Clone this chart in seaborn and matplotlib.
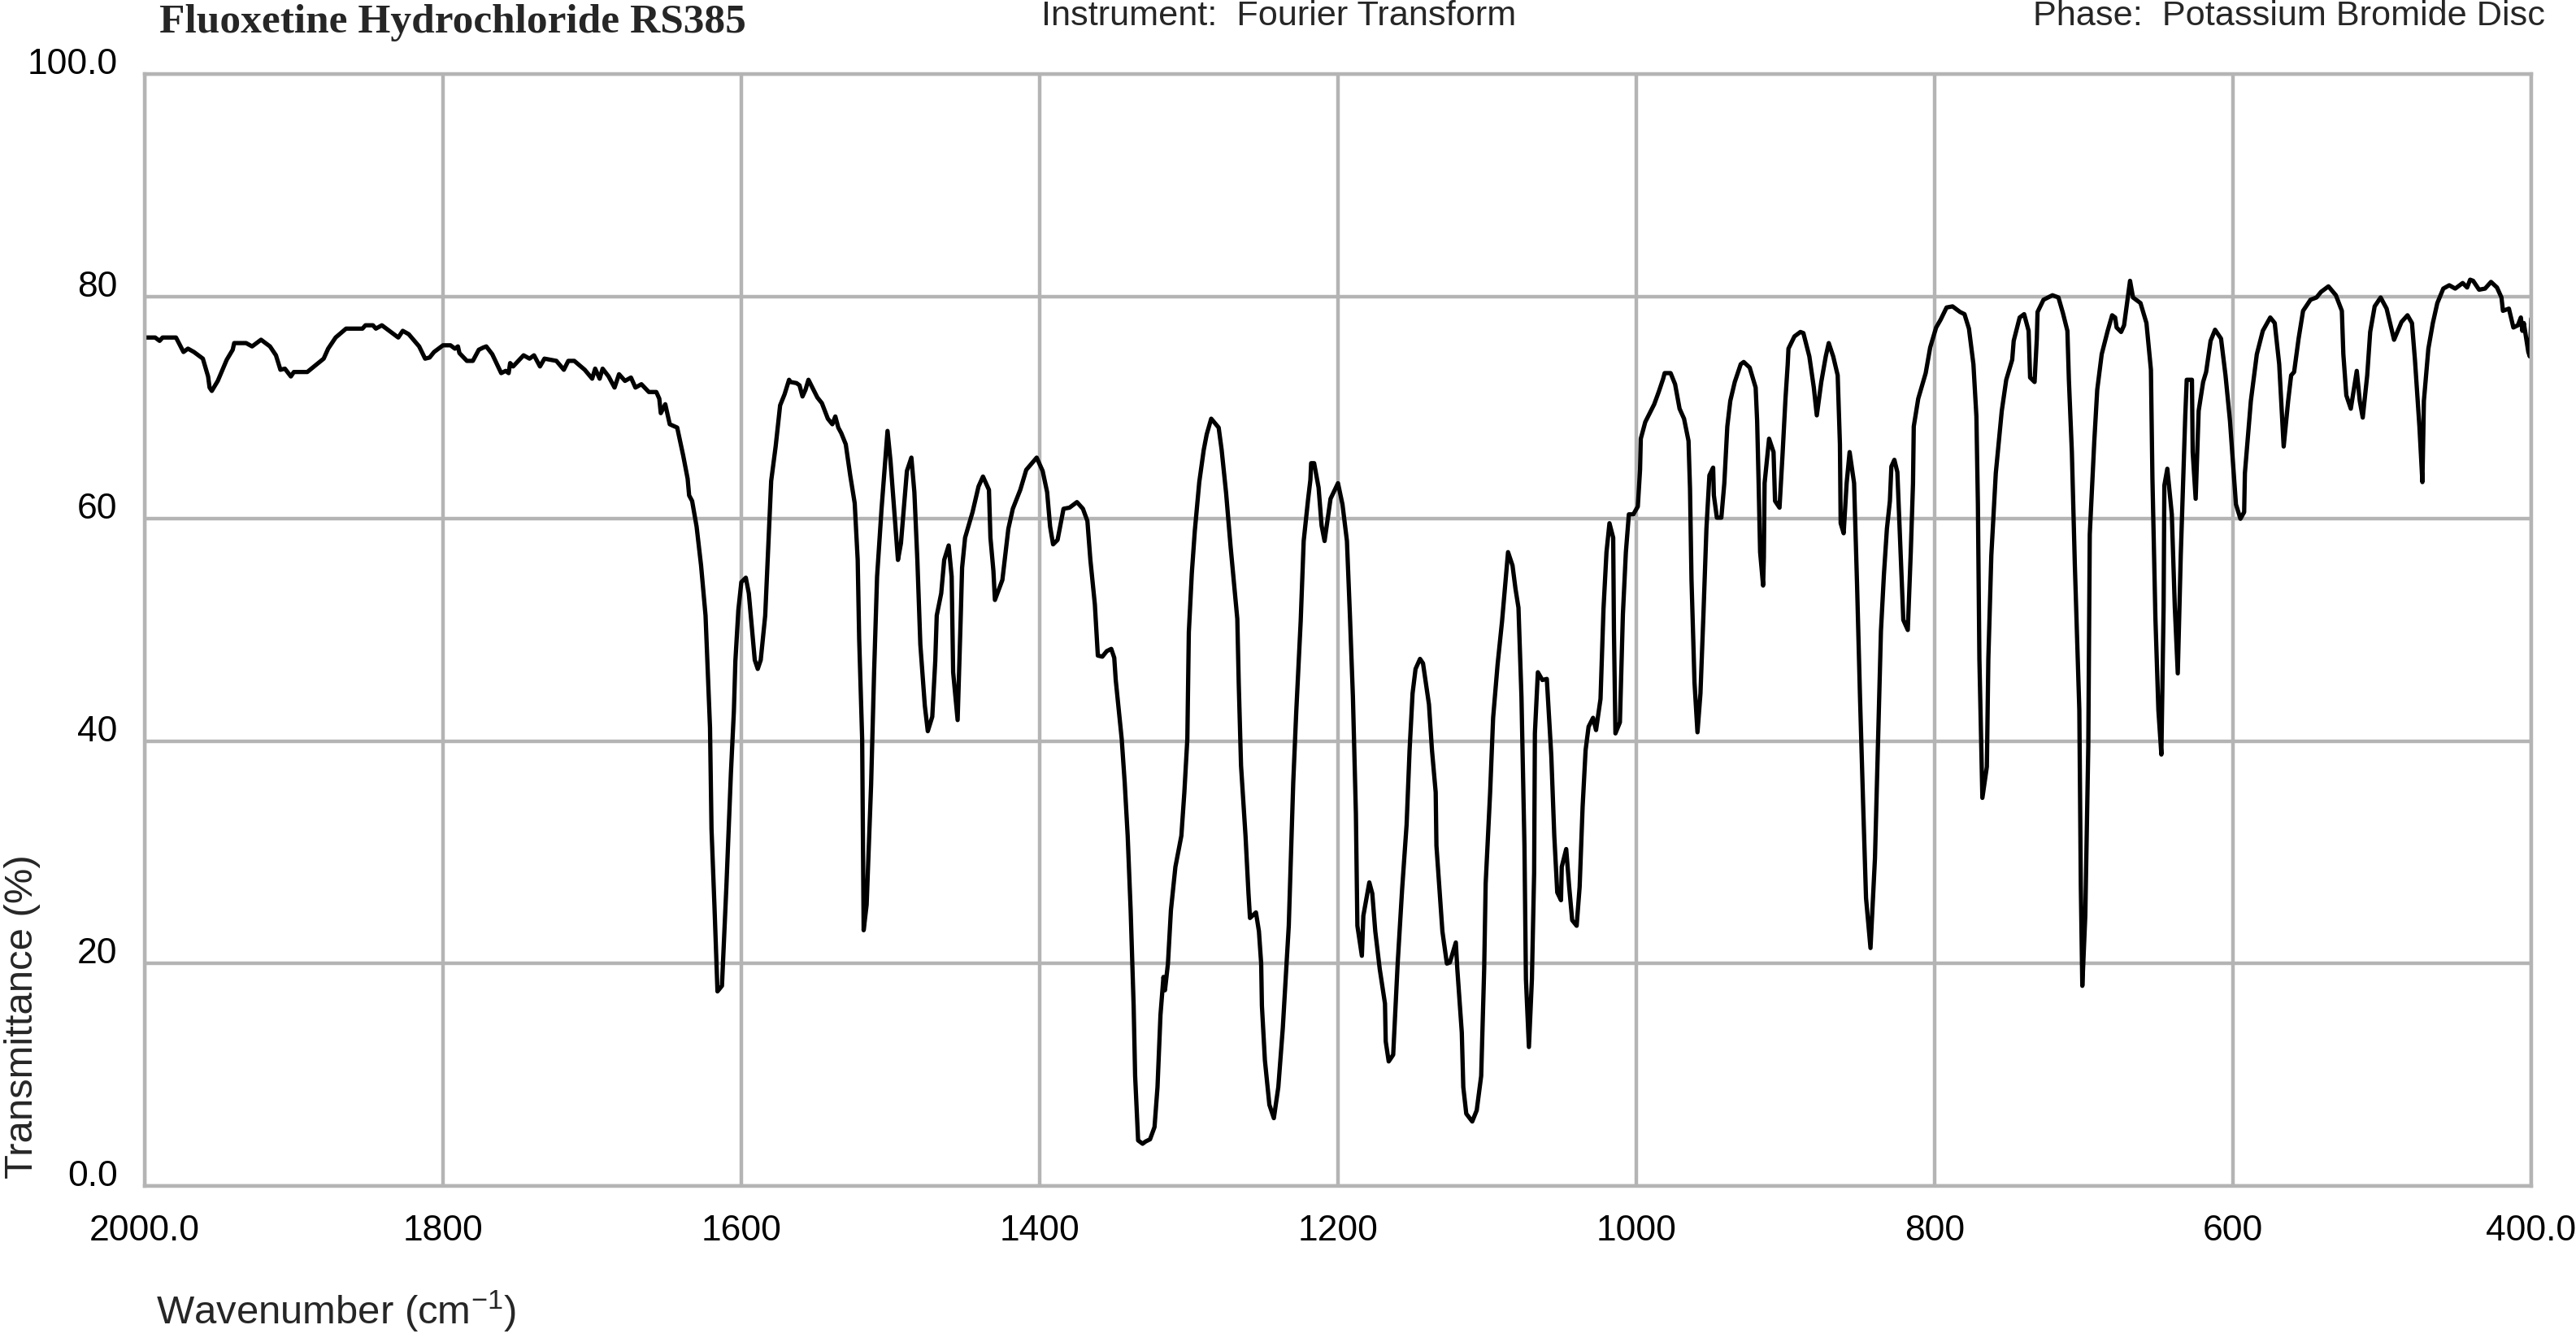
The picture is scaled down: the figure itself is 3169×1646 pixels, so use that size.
import matplotlib
matplotlib.use("Agg")
import matplotlib.pyplot as plt
import seaborn as sns
from matplotlib import font_manager

# ---------------- data ----------------
wavenumber = [
    2000, 1993, 1990, 1988, 1979, 1974, 1971, 1967, 1961, 1957.5, 1956.5, 1955, 1951, 1945, 1941, 1940,
    1932, 1928, 1922, 1916, 1912, 1909, 1906, 1902, 1900, 1891, 1880, 1877, 1872, 1865, 1854, 1852,
    1847, 1845, 1841, 1836, 1830, 1827, 1823, 1816, 1812, 1809, 1806, 1800, 1795, 1792, 1790, 1789,
    1784, 1780, 1776, 1773, 1771, 1767, 1761, 1758, 1756, 1755, 1753, 1746, 1742, 1739, 1735, 1732,
    1724, 1719, 1716, 1712, 1705, 1700, 1698, 1695, 1693, 1689, 1685, 1682, 1678, 1674, 1671, 1667,
    1662, 1657, 1655, 1654, 1651, 1648,
    1643, 1639, 1636, 1635, 1633, 1630, 1627, 1624, 1621, 1620, 1618, 1616, 1613, 1610, 1607, 1605,
    1604, 1602, 1600, 1597, 1595, 1593, 1591, 1589, 1587, 1584, 1582, 1580, 1577, 1574, 1571, 1568,
    1567, 1563, 1561, 1559, 1557, 1555, 1549, 1546, 1542, 1539, 1537, 1535, 1533, 1530, 1527, 1524,
    1522, 1521, 1519, 1518, 1516, 1513, 1511, 1509, 1506, 1502, 1500, 1497, 1495, 1493, 1489, 1486,
    1484, 1482, 1480, 1477, 1475, 1472, 1470, 1469, 1466, 1464, 1461, 1459, 1458, 1455, 1453, 1452,
    1450, 1445, 1441, 1438, 1434, 1433, 1431, 1430, 1425, 1421, 1418, 1413, 1409, 1402, 1398, 1395,
    1393, 1391, 1388, 1384, 1380, 1375, 1371, 1368, 1366, 1363, 1361, 1358, 1355, 1352, 1350,
    1349, 1345, 1343, 1341, 1339, 1337, 1336, 1334, 1331, 1329, 1326, 1323, 1321, 1319, 1317, 1316,
    1314, 1312, 1309, 1305, 1303, 1301, 1300, 1298, 1296, 1293, 1290, 1288, 1285, 1280, 1278, 1275,
    1272, 1267.5, 1266.5, 1265, 1262, 1260, 1259, 1255, 1253, 1251.5, 1251, 1249, 1246, 1243, 1240, 1237,
    1233, 1232, 1230, 1228, 1225, 1223, 1220, 1218.5, 1218, 1216, 1213, 1211, 1209, 1205, 1200, 1197,
    1194, 1192, 1190, 1188, 1187, 1184, 1183, 1179, 1177, 1175, 1172, 1168.5, 1168, 1166, 1163, 1160,
    1157, 1154, 1152, 1150, 1148, 1145, 1143, 1139, 1137, 1134.5, 1134, 1130, 1127, 1125, 1121, 1120,
    1117, 1116, 1114, 1110, 1107, 1104, 1102, 1101, 1098, 1096, 1093, 1090, 1088, 1086, 1083, 1081,
    1079, 1077, 1075, 1074, 1072, 1070, 1068.5, 1068, 1066, 1063,
    1060, 1057, 1055, 1053, 1050.5, 1050, 1047, 1045, 1043, 1040, 1038, 1036, 1034, 1032, 1029, 1027,
    1024, 1022, 1020, 1018, 1015.5, 1015, 1014, 1011, 1009, 1007, 1005, 1002, 999, 997.5, 997, 994,
    991, 988, 985, 982, 981, 977, 974, 971, 968, 965, 964, 963, 961, 959, 957, 955,
    953, 951, 948.5, 948, 946, 943, 941, 939, 937, 934, 932, 930, 928, 924, 920, 919,
    918, 917, 915, 914.5, 914, 911, 908, 907, 904, 902, 900, 898.5, 898, 894, 890, 888,
    884, 881, 879, 876, 873, 871, 868, 865, 863.5, 863, 861, 859, 857, 854, 852, 850,
    848, 846, 843, 840, 838, 836, 834, 832, 830, 829, 827, 825, 823, 821, 818, 816,
    814.5, 814, 811, 806, 803, 799, 796,
    792, 788, 783, 780, 777, 774, 772, 771, 770, 768, 765, 764, 762, 759, 755, 752,
    748, 747, 743, 740, 737, 736, 733, 731.5, 731, 727, 721, 717, 714, 711, 710, 708,
    706, 703, 702, 701, 699, 697, 696, 693, 691, 688, 684, 681, 679, 678, 675, 673,
    669, 667, 662, 658, 655, 654, 652, 650, 648, 646.5, 646, 644, 641, 639, 637, 635,
    632, 631, 627.5, 627, 625, 623, 620, 618, 615, 612, 608, 605, 602, 598, 595, 592.5,
    592, 588, 584, 580, 575, 572, 569, 566, 563, 561, 559, 556, 553, 548, 544, 541,
    536, 531, 527, 526, 524, 521, 517, 515, 513, 510, 508, 505, 501, 497, 492, 487,
    483, 480, 478, 475, 473, 472, 469, 466, 463, 459, 455, 451, 446, 443, 441, 439,
    435, 431, 427, 423, 420, 419, 415, 412, 409, 407, 406, 405, 402, 401, 400,
]

transmittance = [
    76.3, 76.3, 76.0, 76.3, 76.3, 75.0, 75.3, 75.0, 74.4, 72.8, 71.8, 71.5, 72.4, 74.3, 75.2, 75.8,
    75.8, 75.5, 76.1, 75.5, 74.7, 73.4, 73.5, 72.8, 73.2, 73.2, 74.4, 75.3, 76.3, 77.1, 77.1, 77.4,
    77.4, 77.1, 77.4, 76.9, 76.3, 76.9, 76.6, 75.5, 74.4, 74.5, 75.0, 75.6, 75.6, 75.3, 75.5, 74.9,
    74.2, 74.2, 75.2, 75.4, 75.5, 74.8, 73.1, 73.3, 73.1, 74.0, 73.7, 74.7, 74.4, 74.7, 73.7, 74.4,
    74.2, 73.4, 74.2, 74.2, 73.4, 72.6, 73.5, 72.6, 73.5, 72.8, 71.8, 73.0, 72.4, 72.7, 71.8, 72.1,
    71.4, 71.4, 70.8, 69.5, 70.3, 68.5,
    68.2, 65.7, 63.6, 62.1, 61.6, 59.3, 55.8, 51.3, 41.2, 32.1, 25.1, 17.5, 18.0, 27.0, 37.1, 42.7,
    47.2, 51.8, 54.3, 54.7, 53.3, 50.3, 47.3, 46.5, 47.3, 51.3, 57.3, 63.4, 66.5, 70.2, 71.2, 72.5,
    72.3, 72.2, 72.0, 71.0, 71.6, 72.5, 70.9, 70.4, 69.0, 68.5, 69.2, 68.2, 67.7, 66.7, 63.9, 61.4,
    56.3, 49.2, 40.2, 23.0, 25.3, 36.1, 46.2, 54.8, 60.9, 67.9, 65.2, 59.8, 56.3, 57.8, 64.3, 65.5,
    62.4, 56.3, 48.7, 43.2, 40.9, 42.2, 47.2, 51.3, 53.3, 56.3, 57.6, 54.8, 46.2, 41.9, 50.8, 55.6,
    58.3, 60.6, 62.9, 63.8, 62.6, 58.3, 55.3, 52.7, 54.5, 59.1, 60.9, 62.6, 64.4, 65.5, 64.3, 62.4,
    59.3, 57.7, 58.1, 60.9, 61.0, 61.5, 60.9, 59.8, 56.3, 52.3, 47.7, 47.6, 48.1, 48.3, 47.5,
    45.5, 40.2, 36.3, 31.5, 24.8, 16.2, 9.9, 4.1, 3.8, 4.0, 4.2, 5.3, 8.9, 15.4, 18.8, 17.6,
    20.0, 24.8, 28.7, 31.5, 35.4, 40.2, 49.8, 55.1, 58.9, 63.3, 66.2, 67.6, 69.0, 68.2, 66.2, 62.3,
    57.5, 51.0, 45.0, 37.8, 31.5, 26.3, 24.1, 24.6, 22.9, 20.0, 16.2, 11.3, 7.3, 6.1, 8.9, 14.2,
    23.4, 27.7, 36.3, 42.6, 50.8, 58.0, 61.8, 63.5, 65.0, 65.0, 62.8, 59.4, 58.0, 61.8, 63.2, 61.3,
    58.0, 51.3, 44.0, 33.5, 23.4, 20.7, 24.3, 27.3, 26.3, 22.9, 19.5, 16.4, 13.0, 11.2, 11.8, 20.0,
    26.7, 32.5, 39.2, 44.3, 46.5, 47.4, 47.0, 43.3, 39.2, 35.4, 30.6, 22.9, 20.0, 20.1, 21.9, 19.5,
    13.8, 8.9, 6.5, 5.8, 6.8, 9.9, 19.5, 27.2, 35.4, 42.1, 46.9, 50.8, 53.9, 57.0, 55.8, 53.7,
    52.0, 44.0, 30.6, 18.6, 12.5, 18.6, 28.2, 40.7, 46.2, 45.5,
    45.6, 38.7, 31.5, 26.4, 25.7, 28.7, 30.3, 26.9, 23.9, 23.4, 26.9, 34.1, 39.2, 41.3, 42.1, 41.0,
    43.8, 51.9, 57.0, 59.6, 58.3, 49.9, 40.7, 41.7, 51.4, 57.0, 60.4, 60.4, 61.1, 64.4, 67.2, 68.7,
    69.5, 70.3, 71.4, 72.6, 73.1, 73.1, 72.1, 69.9, 69.0, 67.0, 62.7, 54.5, 45.3, 40.8, 44.3, 51.4,
    59.1, 63.9, 64.6, 62.1, 60.1, 60.1, 63.2, 68.3, 70.6, 72.3, 73.1, 73.9, 74.1, 73.6, 71.8, 68.8,
    63.2, 57.0, 54.0, 56.5, 63.2, 67.2, 66.0, 61.6, 61.0, 65.7, 70.8, 73.9, 75.3, 76.4, 76.8, 76.7,
    74.6, 71.8, 69.3, 72.3, 74.6, 75.8, 74.6, 72.9, 66.7, 59.6, 58.7, 63.2, 66.0, 63.2, 54.0, 43.8,
    34.6, 25.9, 21.4, 29.5, 39.7, 49.9, 55.0, 59.1, 61.6, 64.7, 65.3, 64.2, 57.6, 50.9, 50.0, 57.0,
    63.2, 68.3, 70.8, 73.1, 75.4, 77.2, 77.9,
    79.0, 79.1, 78.6, 78.4, 77.1, 73.9, 69.2, 61.3, 47.4, 34.9, 37.7, 47.4, 56.7, 64.1, 69.7, 72.5,
    74.3, 76.0, 78.1, 78.4, 76.9, 72.7, 72.3, 76.2, 78.6, 79.7, 80.1, 79.9, 78.5, 76.9, 72.5, 66.0,
    55.8, 42.8, 27.0, 18.0, 24.3, 39.5, 58.6, 66.9, 71.6, 74.8, 76.9, 78.3, 78.1, 77.2, 76.8, 77.4,
    81.4, 79.9, 79.4, 77.6, 73.4, 63.7, 51.1, 42.8, 38.8, 52.1, 63.0, 64.5, 60.4, 52.1, 46.1, 56.7,
    69.2, 72.5, 72.5, 66.0, 61.8, 69.7, 72.3, 73.2, 76.0, 77.0, 76.2, 72.9, 68.8, 61.3, 60.0, 60.6,
    64.1, 70.6, 74.8, 76.9, 78.1, 77.6, 73.9, 66.5, 70.6, 72.9, 73.2, 76.2, 78.7, 79.7, 79.9, 80.4,
    80.9, 80.1, 78.7, 74.8, 71.1, 69.9, 73.3, 70.6, 69.1, 72.9, 76.8, 79.1, 79.9, 78.9, 76.1, 77.7,
    78.3, 77.6, 74.3, 68.3, 63.3, 70.6, 75.3, 77.6, 79.4, 80.7, 81.0, 80.7, 81.2, 80.8, 81.5, 81.4,
    80.6, 80.7, 81.3, 80.8, 79.9, 78.7, 78.9, 77.2, 77.4, 78.1, 76.9, 77.6, 75.0, 74.6, 78.0,
]

x_ticks = [2000, 1800, 1600, 1400, 1200, 1000, 800, 600, 400]
x_tick_labels = ["2000.0", "1800", "1600", "1400", "1200", "1000", "800", "600", "400.0"]
y_ticks = [0, 20, 40, 60, 80, 100]
y_tick_labels = ["0.0", "20", "40", "60", "80", "100.0"]

title_text = "Fluoxetine Hydrochloride RS385"
instrument_text = "Instrument:  Fourier Transform"
phase_text = "Phase:  Potassium Bromide Disc"
x_label = "Wavenumber (cm$^{-1}$)"
y_label = "Transmittance (%)"

# ---------------- style ----------------
sns.set_style("white")
names = {f.name for f in font_manager.fontManager.ttflist}
narrow_ok = "Liberation Sans Narrow" in names
sans = "Liberation Sans Narrow" if narrow_ok else "Liberation Sans"
scale = 1.0 if narrow_ok else 0.82
plt.rcParams["font.family"] = [sans, "DejaVu Sans"]
plt.rcParams["mathtext.default"] = "regular"

grid_color = "#b4b4b4"
grid_lw = 3.2

W, H = 3169, 1646
fig = plt.figure(figsize=(W / 100, H / 100), dpi=100)
ax = fig.add_axes([178 / W, 1 - 1459 / H, (3114 - 178) / W, (1459 - 91) / H])

sns.lineplot(x=wavenumber, y=transmittance, sort=False, estimator=None,
             color="black", linewidth=3.8, ax=ax)

ax.set_xlim(2000, 400)
ax.set_ylim(0, 100)
ax.set_xticks(x_ticks)
ax.set_xticklabels(x_tick_labels)
ax.set_yticks(y_ticks)
ax.set_yticklabels(y_tick_labels)

ax.grid(True, color=grid_color, linewidth=grid_lw)
ax.set_axisbelow(True)
for sp in ax.spines.values():
    sp.set_color(grid_color)
    sp.set_linewidth(grid_lw)
    sp.set_visible(True)

tick_fs = 39 * scale
ax.tick_params(axis="both", direction="out", length=12, width=grid_lw,
               color=grid_color, labelsize=tick_fs, labelcolor="black")
ax.tick_params(axis="x", pad=13)
ax.tick_params(axis="y", pad=12)
for lbl in ax.get_yticklabels():
    lbl.set_verticalalignment("baseline")

lab_fs = 43 * scale
ax.set_xlabel(x_label, fontsize=lab_fs, ha="left", va="center")
ax.xaxis.set_label_coords((192 - 178) / (3114 - 178), (1459 - 1613) / (1459 - 91))
ax.set_ylabel(y_label, fontsize=lab_fs, ha="center", va="center")
ax.yaxis.set_label_coords((28 - 178) / (3114 - 178), (1459 - 1251) / (1459 - 91))

fig.text(196 / W, 1 - 28 / H, title_text, fontsize=37, fontweight="bold",
         family=["Liberation Serif", "DejaVu Serif"], ha="left", va="center")
fig.text(1281 / W, 1 - 20 / H, instrument_text, fontsize=38 * scale,
         ha="left", va="center")
fig.text(3131 / W, 1 - 20 / H, phase_text, fontsize=38 * scale,
         ha="right", va="center")

fig.savefig("out.png", dpi=100, facecolor="white")
